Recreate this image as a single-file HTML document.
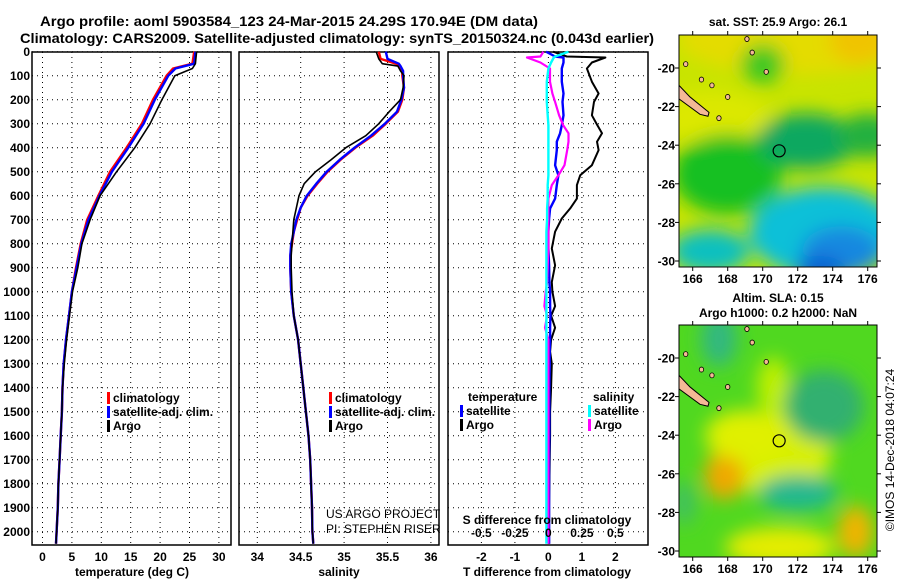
<!DOCTYPE html>
<html><head><meta charset="utf-8"><style>
html,body{margin:0;padding:0;background:#fff;}
svg{display:block;font-family:"Liberation Sans",Arial,sans-serif;}
.b{font-weight:bold;font-size:12px;}
</style></head><body>
<svg id="c" width="900" height="580" viewBox="0 0 900 580" xmlns="http://www.w3.org/2000/svg">
<defs>
<filter id="blur1" x="-50%" y="-50%" width="200%" height="200%"><feGaussianBlur stdDeviation="9"/></filter>
<clipPath id="clipTop"><rect x="679" y="35" width="198" height="232"/></clipPath>
<clipPath id="clipBot"><rect x="679" y="325" width="198" height="232"/></clipPath>
</defs>
<text x="40" y="26" font-size="14" font-weight="bold" textLength="498" lengthAdjust="spacingAndGlyphs">Argo profile: aoml 5903584_123 24-Mar-2015 24.29S 170.94E (DM data)</text>
<text x="20" y="43" font-size="14" font-weight="bold" textLength="634" lengthAdjust="spacingAndGlyphs">Climatology: CARS2009. Satellite-adjusted climatology: synTS_20150324.nc (0.043d earlier)</text>
<g id="g"></g>
</svg>
<script>
// ---------- data ----------
const depthT = [0,50,70,100,200,300,400,500,600,700,800,900,1000,1100,1200,1300,1400,1500,1600,1700,1800,1900,2000,2050];
const tempClim = [25.8,25.5,22.2,21.1,18.8,16.9,14.3,11.5,9.5,7.6,6.5,5.7,5.0,4.5,4.0,3.6,3.4,3.3,3.1,2.9,2.7,2.6,2.4,2.3];
const tempSat  = [26.0,25.8,22.6,21.4,19.1,17.2,14.6,11.8,9.7,7.8,6.6,5.8,5.0,4.5,4.0,3.6,3.4,3.3,3.1,2.9,2.7,2.6,2.4,2.3];
const tempArgo = [26.2,26.0,25.5,22.5,20.3,18.3,15.7,12.6,9.8,8.1,6.7,6.0,5.1,4.6,4.1,3.7,3.4,3.3,3.1,2.9,2.7,2.6,2.4,2.3];
const depthS = [0,30,50,60,80,100,150,200,250,300,350,400,450,500,550,600,650,700,750,800,850,900,1000,1100,1200,1300,1400,1500,1600,1700,1800,1900,2000,2050];
const salClim = [35.40,35.42,35.60,35.64,35.67,35.67,35.69,35.67,35.62,35.48,35.33,35.13,34.96,34.81,34.69,34.58,34.50,34.46,34.42,34.40,34.38,34.38,34.39,34.42,34.47,34.50,34.53,34.56,34.59,34.61,34.62,34.63,34.635,34.645];
const salSat  = [35.48,35.50,35.63,35.65,35.68,35.68,35.69,35.66,35.61,35.47,35.31,35.12,34.95,34.80,34.68,34.57,34.50,34.45,34.42,34.39,34.38,34.38,34.39,34.42,34.47,34.50,34.53,34.56,34.59,34.61,34.62,34.63,34.635,34.645];
const salArgo = [35.37,35.40,35.44,35.62,35.65,35.69,35.68,35.65,35.52,35.40,35.25,35.02,34.85,34.67,34.54,34.48,34.45,34.42,34.41,34.40,34.39,34.39,34.40,34.42,34.47,34.50,34.53,34.56,34.59,34.61,34.62,34.63,34.635,34.645];
const depthD = [0,20,24,45,70,125,174,209,265,306,340,375,410,473,515,556,612,653,695,750,820,890,960,1000,1060,1100,1150,1200,1250,1300,1400,1500,1600,1700,1800,1900,2000,2050];
const dTArgo = [0.14,0.55,1.7,1.3,1.15,1.3,1.5,1.36,1.3,1.46,1.6,1.45,1.5,1.3,0.95,0.85,0.85,0.65,0.4,0.2,0.1,0.2,0.1,0.12,0.2,0.08,0.2,0.08,0.05,0.1,0.08,0.05,0.05,0.04,0.03,0.02,0.02,0.02];
const dTSat  = [-0.07,0.2,0.45,0.45,0.4,0.4,0.45,0.42,0.45,0.4,0.35,0.25,0.25,0.2,0.3,0.25,0.2,0.05,0.02,0.0,0.0,0.02,0.03,0.05,0.05,0.06,0.05,0.05,0.04,0.04,0.03,0.03,0.03,0.02,0.02,0.02,0.02,0.02];
const dSArgo = [-0.037,-0.06,-0.16,-0.06,0.012,0.012,0.03,0.05,0.08,0.11,0.15,0.15,0.14,0.12,0.075,0.025,0.0,0.0,0.0,0.0,0.0,-0.005,-0.01,-0.02,-0.03,-0.01,-0.025,0.0,0.0,0.0,0.0,0.0,0.0,0.0,0.0,0.0,0.0,0.0];
const dSSat  = [0.15,0.05,0.04,0.02,0.0,-0.012,-0.012,-0.012,-0.005,0.0,0.0,0.0,0.0,0.0,0.0,-0.005,-0.005,-0.01,-0.01,-0.015,-0.015,-0.015,-0.015,-0.015,-0.015,-0.015,-0.015,-0.015,-0.015,-0.015,-0.015,-0.015,-0.015,-0.015,-0.015,-0.015,-0.015,-0.015];
const depthTicks = [0,100,200,300,400,500,600,700,800,900,1000,1100,1200,1300,1400,1500,1600,1700,1800,1900,2000];
const tempTicks = [0,5,10,15,20,25,30];
const salTicks = [34,34.5,35,35.5,36];
const salTickLabels = ["34","34.5","35","35.5","36"];
const dTTicks = [-2,-1,0,1,2];
const dSTicks = [-0.5,-0.25,0,0.25,0.5];
const dSTickLabels = ["-0.5","-0.25","0","0.25","0.5"];
const lonTicks = [166,168,170,172,174,176];
const latTicks = [-20,-22,-24,-26,-28,-30];
const argoLon = 170.94, argoLat = -24.29;

// ---------- helpers ----------
const NS="http://www.w3.org/2000/svg";
const G=document.getElementById('g');
function mk(tag,attrs,parent){const e=document.createElementNS(NS,tag);for(const k in attrs)e.setAttribute(k,attrs[k]);(parent||G).appendChild(e);return e;}
const PT=52, PB=545;
const yD = d => 51.7 + d*0.24;
const xT = t => 42.5 + t*5.88;
const xS = s => 257.3 + (s-34)*86.8;
const xDT = t => 548.4 + t*33.5;
const xDS = s => 548.4 + s*134;
const xLon = l => 692.7 + (l-166)*17.5;
const yLatTop = l => 68 + (-20-l)*19.3;
const yLatBot = l => 358 + (-20-l)*19.3;

function panel(name,x0,x1,xticks,xf,showDepth){
  const grp=mk('g',{});
  
  
  depthTicks.forEach(d=>{
    const l=mk('line',{x1:x0,x2:x1,y1:yD(d),y2:yD(d),stroke:'#000','stroke-width':1,'stroke-dasharray':'1,4'},grp);
    
    
    if(showDepth){
      const t=mk('text',{x:30,y:yD(d)+4.5,'text-anchor':'end',class:'b'},grp);
      t.textContent=d;
      
      
    }
  });
  xticks.forEach(v=>{
    const l=mk('line',{x1:xf(v),x2:xf(v),y1:PT,y2:PB,stroke:'#000','stroke-width':1,'stroke-dasharray':'1,4'},grp);
    
    
  });
  const r=mk('rect',{x:x0,y:PT,width:x1-x0,height:PB-PT,fill:'none',stroke:'#000','stroke-width':1.5},grp);
  
  
  return grp;
}
function series(name,ds,vs,xf,color,w){
  const pts=ds.map((d,i)=>xf(vs[i]).toFixed(1)+','+yD(d).toFixed(1)).join(' ');
  const p=mk('polyline',{points:pts,fill:'none',stroke:color,'stroke-width':w||2.2,'stroke-linejoin':'round'});
  
  
}
function txt(name,x,y,s,attrs){
  const t=mk('text',Object.assign({x:x,y:y,class:'b'},attrs||{}));
  t.textContent=s;
  
  
  return t;
}
function legendItem(name,x,y,color,label){
  const r=mk('rect',{x:x,y:y-10,width:3,height:12,fill:color});
  
  
  txt(name,x+6,y,label);
}

// ---------- temperature panel ----------
panel('temperature-panel',32,231,tempTicks,xT,true);
series('temp-climatology',depthT,tempClim,xT,'#ff0000',2.4);
series('temp-satellite-adj',depthT,tempSat,xT,'#0000ff',2.4);
series('temp-argo',depthT,tempArgo,xT,'#000000',1.6);
tempTicks.forEach(v=>txt('temp-tick-label',xT(v),561,String(v),{'text-anchor':'middle'}));
txt('temp-axis-title',132,576,'temperature (deg C)',{'text-anchor':'middle'});
legendItem('legend-climatology',107,402,'#ff0000','climatology');
legendItem('legend-satellite-adj',107,416,'#0000ff','satellite-adj. clim.');
legendItem('legend-argo',107,430,'#000000','Argo');

// ---------- salinity panel ----------
panel('salinity-panel',239,439,salTicks,xS,false);
series('sal-climatology',depthS,salClim,xS,'#ff0000',2.4);
series('sal-satellite-adj',depthS,salSat,xS,'#0000ff',2.4);
series('sal-argo',depthS,salArgo,xS,'#000000',1.6);
salTicks.forEach((v,i)=>txt('sal-tick-label',xS(v),561,salTickLabels[i],{'text-anchor':'middle'}));
txt('sal-axis-title',339,576,'salinity',{'text-anchor':'middle'});
legendItem('legend-s-climatology',329,402,'#ff0000','climatology');
legendItem('legend-s-satellite-adj',329,416,'#0000ff','satellite-adj. clim.');
legendItem('legend-s-argo',329,430,'#000000','Argo');
txt('project-credit',326,518,'US ARGO PROJECT',{style:'font-weight:normal;font-size:12px'});
txt('pi-credit',326,533,'PI: STEPHEN RISER',{style:'font-weight:normal;font-size:12px'});

// ---------- difference panel ----------
panel('difference-panel',448,648,dTTicks,xDT,false);
series('dT-argo',depthD,dTArgo,xDT,'#000000',2);
series('dT-satellite',depthD,dTSat,xDT,'#0000ff',2.4);
series('dS-argo',depthD,dSArgo,xDS,'#ff00ff',2.2);
series('dS-satellite',depthD,dSSat,xDS,'#00ffff',2.4);
dTTicks.forEach(v=>txt('dT-tick-label',xDT(v),561,String(v),{'text-anchor':'middle'}));
dSTicks.forEach((v,i)=>txt('dS-tick-label',xDS(v),537,dSTickLabels[i],{'text-anchor':'middle'}));
txt('dS-axis-title',547,524,'S difference from climatology',{'text-anchor':'middle'});
txt('dT-axis-title',547,576,'T difference from climatology',{'text-anchor':'middle'});
txt('legend-temp-header',468,401,'temperature');
legendItem('legend-dT-satellite',460,415,'#0000ff','satellite');
legendItem('legend-dT-argo',460,429,'#000000','Argo');
txt('legend-sal-header',593,401,'salinity');
legendItem('legend-dS-satellite',588,415,'#00ffff','satellite');
legendItem('legend-dS-argo',588,429,'#ff00ff','Argo');

// ---------- maps ----------
function map(name,top,yLat,clip,blobs,title1,title2){
  const grp=mk('g',{});
  
  
  const inner=mk('g',{'clip-path':'url(#'+clip+')'},grp);
  mk('rect',{x:679,y:top,width:198,height:232,fill:blobs[0]},inner);
  const bg=mk('g',{filter:'url(#blur1)'},inner);
  blobs.slice(1).forEach(b=>mk('ellipse',{cx:xLon(b[0]),cy:yLat(b[1]),rx:b[2],ry:b[3],fill:b[4]},bg));
  const land=mk('polygon',{points:'679,'+(yLat(-20.9))+' 690,'+yLat(-21.5)+' 709,'+yLat(-22.3)+' 708,'+yLat(-22.5)+' 700,'+yLat(-22.4)+' 679,'+yLat(-21.6),fill:'#f4b896',stroke:'#000','stroke-width':1},inner);
  
  
  [[169.1,-18.5],[169.4,-19.2],[166.5,-20.6],[167.1,-20.9],[168,-21.5],[165.6,-19.8],[170.2,-20.2],[167.5,-22.6]].forEach(p=>{
    const e=mk('ellipse',{cx:xLon(p[0]),cy:yLat(p[1]),rx:2.2,ry:2.5,fill:'#f4b896',stroke:'#000','stroke-width':0.8},inner);
    
    
  });
  const c=mk('circle',{cx:xLon(argoLon),cy:yLat(argoLat),r:6,fill:'none',stroke:'#000','stroke-width':1.2},grp);
  
  
  const fr=mk('rect',{x:679,y:top,width:198,height:232,fill:'none',stroke:'#000','stroke-width':1},grp);
  
  
  lonTicks.forEach(l=>{
    mk('line',{x1:xLon(l),x2:xLon(l),y1:top,y2:top-4,stroke:'#000'},grp);
    mk('line',{x1:xLon(l),x2:xLon(l),y1:top+232,y2:top+236,stroke:'#000'},grp);
    txt('lon-tick-label',xLon(l),top+248,String(l),{'text-anchor':'middle'});
  });
  latTicks.forEach(l=>{
    mk('line',{x1:877,x2:881,y1:yLat(l),y2:yLat(l),stroke:'#000'},grp);
    mk('line',{x1:679,x2:675,y1:yLat(l),y2:yLat(l),stroke:'#000'},grp);
    txt('lat-tick-label',675,yLat(l)+4.5,String(l),{'text-anchor':'end'});
  });
  if(title2){
    txt('map-title',778,top-23,title1,{'text-anchor':'middle'});
    txt('map-subtitle',778,top-8,title2,{'text-anchor':'middle'});
  } else txt('map-title',778,top-9,title1,{'text-anchor':'middle'});
}
map('sst-map',35,yLatTop,'clipTop',[
 '#c8e400',
 [172,-18.5,120,35,'#e4dc00'],[175.5,-18.5,30,25,'#f0c400'],
 [167,-22.5,60,25,'#dce800'],
 [168,-25.5,55,40,'#18c020'],[172.5,-23.8,50,28,'#10a860'],[176,-23.5,30,22,'#20b040'],
 [170,-19.8,22,20,'#40c820'],
 [173.5,-28.5,75,45,'#10c0d8'],[174.5,-29.5,40,25,'#1888e0'],[173.3,-30.5,25,15,'#1060d0'],
 [167,-29.5,40,22,'#10c0c0']
],'sat. SST: 25.9 Argo: 26.1',null);
map('sla-map',325,yLatBot,'clipBot',[
 '#50d820',
 [170.5,-25,60,40,'#d8f000'],[167.8,-26.1,20,24,'#f0a800'],[175.3,-29,18,26,'#f0b400'],
 [171,-29.8,55,20,'#e4ec00'],[170.6,-21.5,16,30,'#c0f000'],[169,-24,40,25,'#e0f000'],
 [167.5,-19,18,28,'#30b880'],[173.5,-22.5,40,36,'#30b070'],[172,-27,40,18,'#20b890'],
 [165.5,-27.5,12,22,'#40c060']
],'Altim. SLA: 0.15','Argo h1000: 0.2 h2000: NaN');
txt('copyright-stamp',0,0,'©IMOS 14-Dec-2018 04:07:24',{transform:'translate(894,450) rotate(-90)','text-anchor':'middle',style:'font-weight:normal;font-size:12px'});
</script>
</body></html>
